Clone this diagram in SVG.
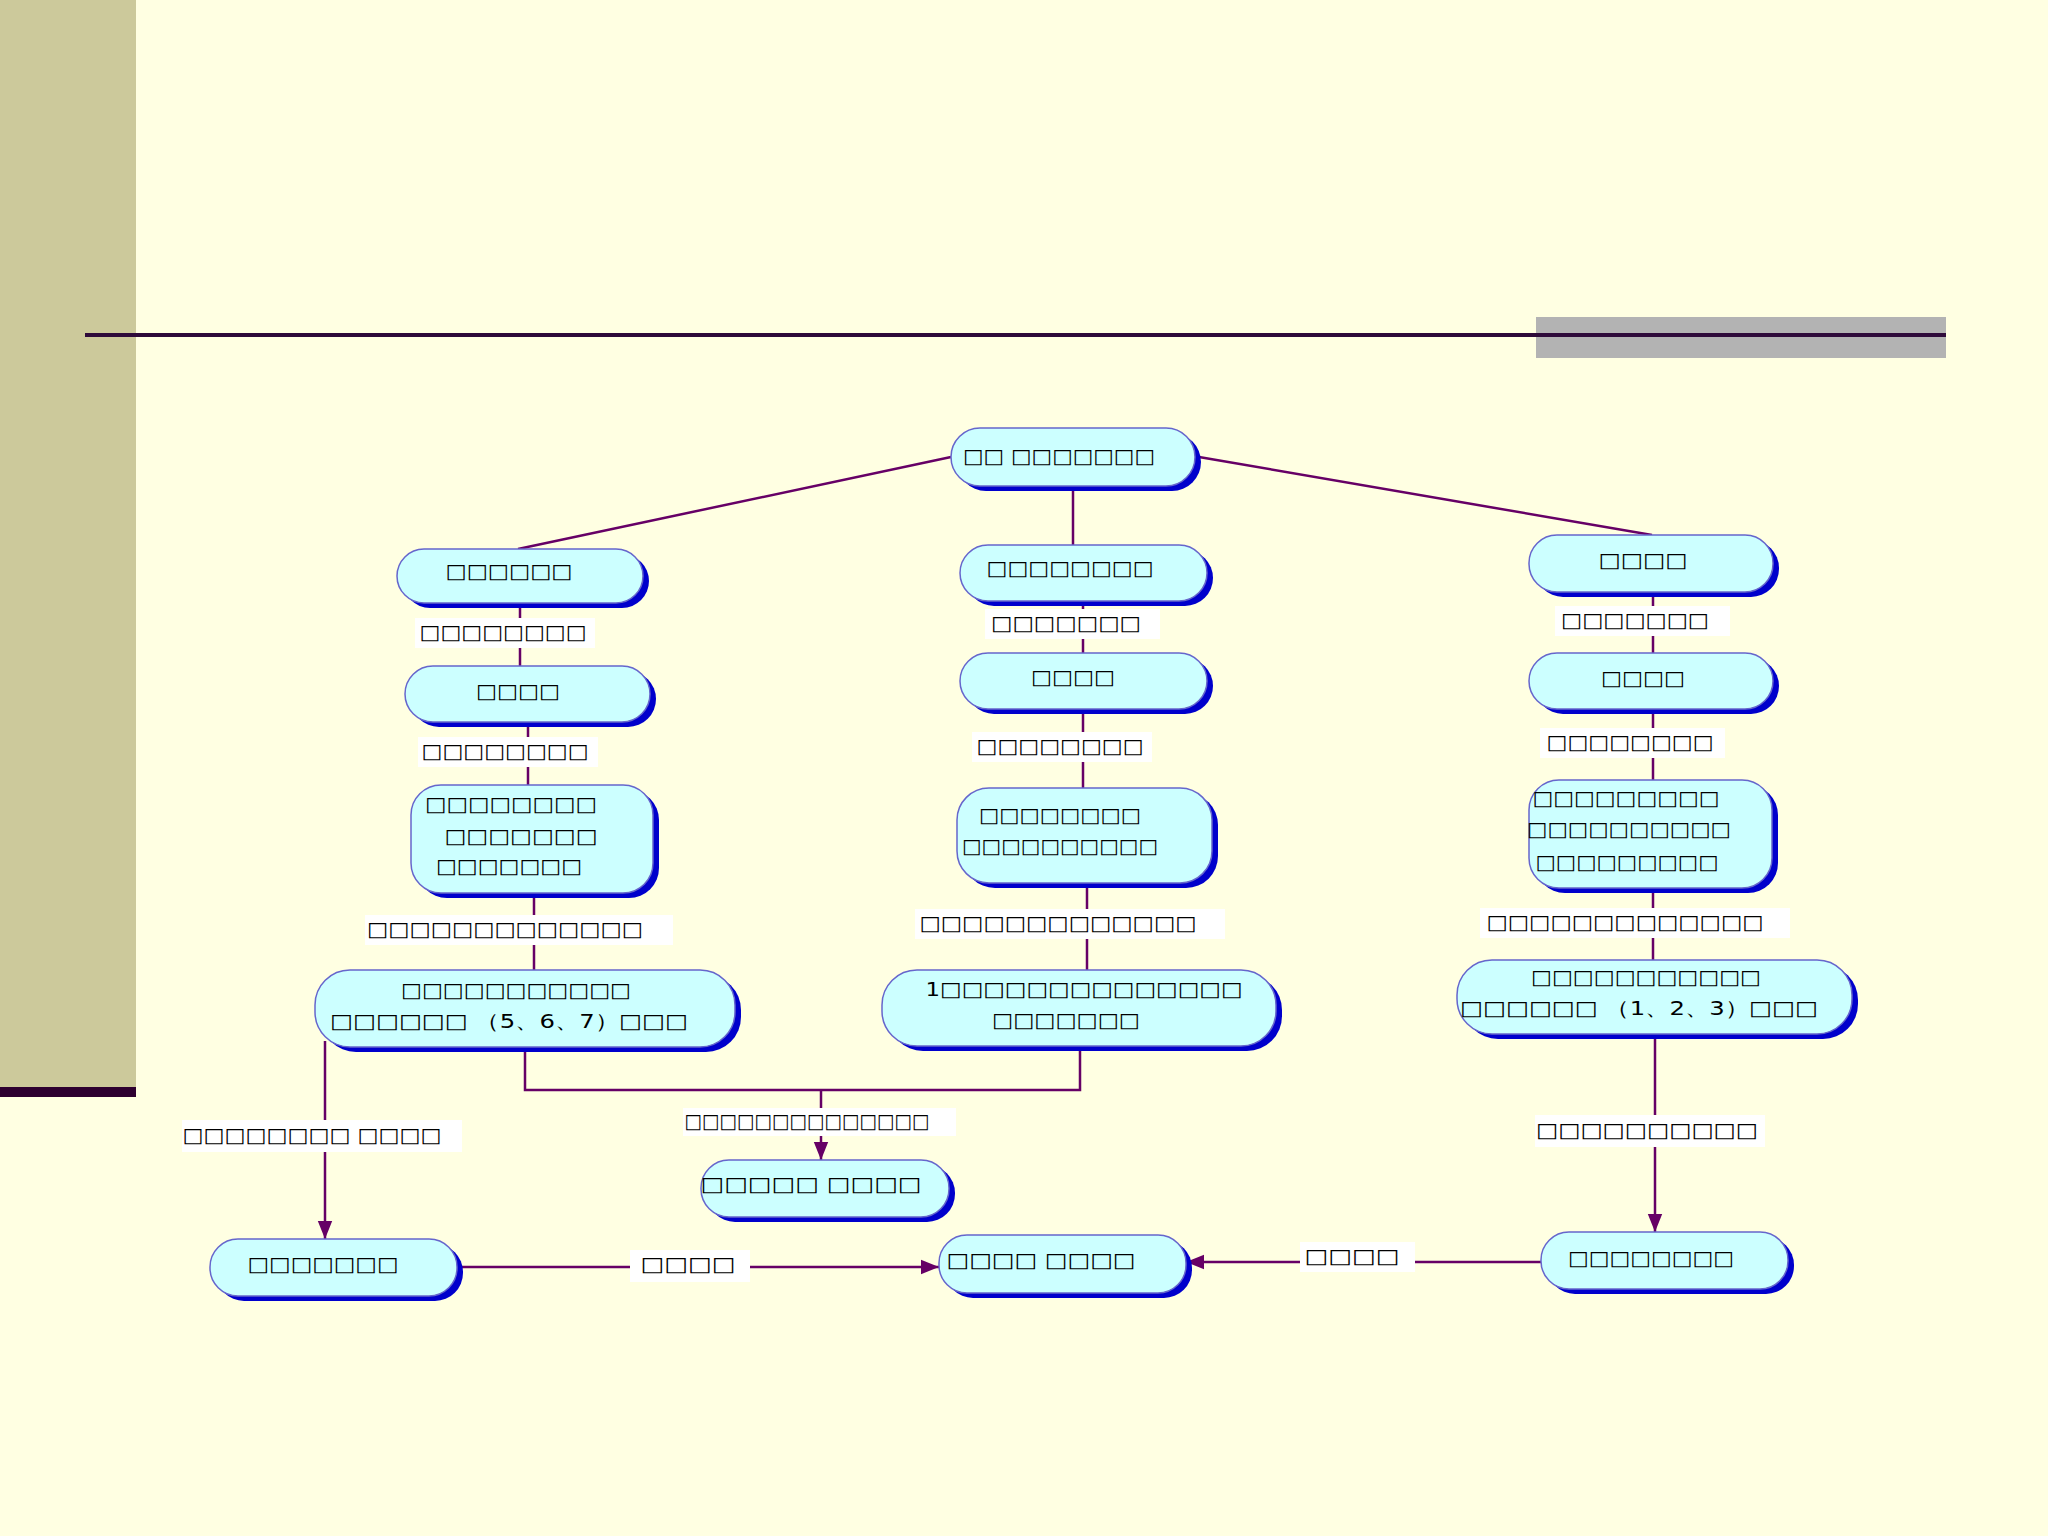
<svg xmlns="http://www.w3.org/2000/svg" width="2048" height="1536" viewBox="0 0 2048 1536">
<defs>
<style>
.n .s{fill:#0000CC}
.n .b{fill:#CCFFFF;stroke:#6666CC;stroke-width:1.5}
text{font-family:"DejaVu Sans",sans-serif;font-size:20px;fill:#000;text-anchor:middle;dominant-baseline:central}
.c line,.c polyline{stroke:#660066;stroke-width:2.5;fill:none}
.lb{fill:#FFFFFF}
</style>
<marker id="a" viewBox="0 0 10 10" refX="10" refY="5" markerWidth="7" markerHeight="7" orient="auto" markerUnits="userSpaceOnUse">
<path d="M0,0L10,5L0,10z" fill="#660066"/>
</marker>
<marker id="ah" viewBox="0 0 10 10" refX="10" refY="5" markerWidth="18" markerHeight="18" orient="auto" markerUnits="userSpaceOnUse">
<path d="M0,1L10,5L0,9z" fill="#660066"/>
</marker>
</defs>
<rect width="2048" height="1536" fill="#FFFFE2"/>
<rect x="0" y="0" width="136" height="1090" fill="#CCC99B"/>
<rect x="0" y="1087" width="136" height="10" fill="#2E0030"/>
<rect x="1536" y="317" width="410" height="41" fill="#B3B3B3"/>
<line x1="85" y1="335" x2="1946" y2="335" stroke="#2E0A3A" stroke-width="4"/>

<g class="c">
<line x1="951" y1="457" x2="518" y2="549"/>
<line x1="1073" y1="486" x2="1073" y2="545"/>
<line x1="1199" y1="457" x2="1652" y2="535"/>
<line x1="520" y1="603" x2="520" y2="666"/>
<line x1="528" y1="722" x2="528" y2="785"/>
<line x1="534" y1="893" x2="534" y2="970"/>
<line x1="1083" y1="601" x2="1083" y2="653"/>
<line x1="1083" y1="709" x2="1083" y2="788"/>
<line x1="1087" y1="883" x2="1087" y2="970"/>
<line x1="1653" y1="592" x2="1653" y2="653"/>
<line x1="1653" y1="709" x2="1653" y2="780"/>
<line x1="1653" y1="888" x2="1653" y2="960"/>
<polyline points="525,1047 525,1090 1080,1090 1080,1046"/>
<line x1="821" y1="1090" x2="821" y2="1160" marker-end="url(#ah)"/>
<line x1="325" y1="1041" x2="325" y2="1239" marker-end="url(#ah)"/>
<line x1="1655" y1="1034" x2="1655" y2="1232" marker-end="url(#ah)"/>
<line x1="457" y1="1267" x2="939" y2="1267" marker-end="url(#ah)"/>
<line x1="1541" y1="1262" x2="1186" y2="1262" marker-end="url(#ah)"/>
</g>

<g id="labels">
<rect class="lb" x="415" y="618" width="180" height="30"/><text x="503" y="632" textLength="167" lengthAdjust="spacingAndGlyphs">□□□□□□□□</text>
<rect class="lb" x="418" y="737" width="180" height="30"/><text x="505" y="751" textLength="167" lengthAdjust="spacingAndGlyphs">□□□□□□□□</text>
<rect class="lb" x="365" y="915" width="308" height="30"/><text x="505" y="929" textLength="276" lengthAdjust="spacingAndGlyphs">□□□□□□□□□□□□□</text>
<rect class="lb" x="985" y="609" width="175" height="30"/><text x="1066" y="623" textLength="150" lengthAdjust="spacingAndGlyphs">□□□□□□□</text>
<rect class="lb" x="972" y="732" width="180" height="30"/><text x="1060" y="746" textLength="167" lengthAdjust="spacingAndGlyphs">□□□□□□□□</text>
<rect class="lb" x="915" y="909" width="310" height="30"/><text x="1058" y="923" textLength="277" lengthAdjust="spacingAndGlyphs">□□□□□□□□□□□□□</text>
<rect class="lb" x="1555" y="606" width="175" height="30"/><text x="1635" y="620" textLength="148" lengthAdjust="spacingAndGlyphs">□□□□□□□</text>
<rect class="lb" x="1540" y="728" width="185" height="30"/><text x="1630" y="742" textLength="167" lengthAdjust="spacingAndGlyphs">□□□□□□□□</text>
<rect class="lb" x="1480" y="908" width="310" height="30"/><text x="1625" y="922" textLength="277" lengthAdjust="spacingAndGlyphs">□□□□□□□□□□□□□</text>
<rect class="lb" x="683" y="1108" width="273" height="28"/><text x="807" y="1121" font-size="16" textLength="245" lengthAdjust="spacingAndGlyphs">□□□□□□□□□□□□□□</text>
<rect class="lb" x="182" y="1120" width="280" height="32"/><text x="312" y="1135" textLength="259" lengthAdjust="spacingAndGlyphs">□□□□□□□□ □□□□</text>
<rect class="lb" x="1535" y="1115" width="230" height="32"/><text x="1647" y="1130" textLength="222" lengthAdjust="spacingAndGlyphs">□□□□□□□□□□</text>
<rect class="lb" x="630" y="1250" width="120" height="32"/><text x="688" y="1264" textLength="95" lengthAdjust="spacingAndGlyphs">□□□□</text>
<rect class="lb" x="1300" y="1242" width="115" height="30"/><text x="1352" y="1256" textLength="95" lengthAdjust="spacingAndGlyphs">□□□□</text>
</g>

<g id="n0" class="n"><rect class="s" x="957" y="433" width="244" height="58" rx="29"/><rect class="b" x="951" y="428" width="244" height="58" rx="29"/><text x="1059" y="456" textLength="192" lengthAdjust="spacingAndGlyphs">□□ □□□□□□□</text></g>
<g id="l1" class="n"><rect class="s" x="403" y="554" width="246" height="54" rx="27"/><rect class="b" x="397" y="549" width="246" height="54" rx="27"/><text x="509" y="571" textLength="127" lengthAdjust="spacingAndGlyphs">□□□□□□</text></g>
<g id="l2" class="n"><rect class="s" x="411" y="671" width="245" height="56" rx="28"/><rect class="b" x="405" y="666" width="245" height="56" rx="28"/><text x="518" y="691" textLength="84" lengthAdjust="spacingAndGlyphs">□□□□</text></g>
<g id="l3" class="n"><rect class="s" x="417" y="790" width="242" height="108" rx="30"/><rect class="b" x="411" y="785" width="242" height="108" rx="30"/><text x="511" y="804" textLength="172" lengthAdjust="spacingAndGlyphs">□□□□□□□□</text><text x="521" y="836" textLength="153" lengthAdjust="spacingAndGlyphs">□□□□□□□</text><text x="509" y="866" textLength="146" lengthAdjust="spacingAndGlyphs">□□□□□□□</text></g>
<g id="l4" class="n"><rect class="s" x="321" y="975" width="420" height="77" rx="35"/><rect class="b" x="315" y="970" width="420" height="77" rx="35"/><text x="516" y="990" textLength="230" lengthAdjust="spacingAndGlyphs">□□□□□□□□□□□</text><text x="509" y="1021" textLength="358" lengthAdjust="spacingAndGlyphs">□□□□□□ （5、6、7）□□□</text></g>
<g id="m1" class="n"><rect class="s" x="966" y="550" width="247" height="56" rx="28"/><rect class="b" x="960" y="545" width="247" height="56" rx="28"/><text x="1070" y="568" textLength="167" lengthAdjust="spacingAndGlyphs">□□□□□□□□</text></g>
<g id="m2" class="n"><rect class="s" x="966" y="658" width="247" height="56" rx="28"/><rect class="b" x="960" y="653" width="247" height="56" rx="28"/><text x="1073" y="677" textLength="84" lengthAdjust="spacingAndGlyphs">□□□□</text></g>
<g id="m3" class="n"><rect class="s" x="963" y="793" width="255" height="95" rx="32"/><rect class="b" x="957" y="788" width="255" height="95" rx="32"/><text x="1060" y="815" textLength="162" lengthAdjust="spacingAndGlyphs">□□□□□□□□</text><text x="1060" y="846" textLength="196" lengthAdjust="spacingAndGlyphs">□□□□□□□□□□</text></g>
<g id="m4" class="n"><rect class="s" x="888" y="975" width="394" height="76" rx="35"/><rect class="b" x="882" y="970" width="394" height="76" rx="35"/><text x="1084" y="989" textLength="317" lengthAdjust="spacingAndGlyphs">1□□□□□□□□□□□□□□</text><text x="1066" y="1020" textLength="148" lengthAdjust="spacingAndGlyphs">□□□□□□□</text></g>
<g id="r1" class="n"><rect class="s" x="1535" y="540" width="244" height="57" rx="28"/><rect class="b" x="1529" y="535" width="244" height="57" rx="28"/><text x="1643" y="560" textLength="89" lengthAdjust="spacingAndGlyphs">□□□□</text></g>
<g id="r2" class="n"><rect class="s" x="1535" y="658" width="244" height="56" rx="28"/><rect class="b" x="1529" y="653" width="244" height="56" rx="28"/><text x="1643" y="678" textLength="84" lengthAdjust="spacingAndGlyphs">□□□□</text></g>
<g id="r3" class="n"><rect class="s" x="1535" y="785" width="243" height="108" rx="30"/><rect class="b" x="1529" y="780" width="243" height="108" rx="30"/><text x="1626" y="798" textLength="187" lengthAdjust="spacingAndGlyphs">□□□□□□□□□</text><text x="1629" y="829" textLength="204" lengthAdjust="spacingAndGlyphs">□□□□□□□□□□</text><text x="1627" y="862" textLength="183" lengthAdjust="spacingAndGlyphs">□□□□□□□□□</text></g>
<g id="r4" class="n"><rect class="s" x="1463" y="965" width="395" height="74" rx="35"/><rect class="b" x="1457" y="960" width="395" height="74" rx="35"/><text x="1646" y="977" textLength="230" lengthAdjust="spacingAndGlyphs">□□□□□□□□□□□</text><text x="1639" y="1008" textLength="358" lengthAdjust="spacingAndGlyphs">□□□□□□ （1、2、3）□□□</text></g>
<g id="b1" class="n"><rect class="s" x="707" y="1165" width="248" height="57" rx="28"/><rect class="b" x="701" y="1160" width="248" height="57" rx="28"/><text x="811" y="1184" textLength="221" lengthAdjust="spacingAndGlyphs">□□□□□ □□□□</text></g>
<g id="b2" class="n"><rect class="s" x="216" y="1244" width="247" height="57" rx="28"/><rect class="b" x="210" y="1239" width="247" height="57" rx="28"/><text x="323" y="1264" textLength="151" lengthAdjust="spacingAndGlyphs">□□□□□□□</text></g>
<g id="b3" class="n"><rect class="s" x="945" y="1240" width="247" height="58" rx="28"/><rect class="b" x="939" y="1235" width="247" height="58" rx="28"/><text x="1041" y="1260" textLength="189" lengthAdjust="spacingAndGlyphs">□□□□ □□□□</text></g>
<g id="b4" class="n"><rect class="s" x="1547" y="1237" width="247" height="57" rx="28"/><rect class="b" x="1541" y="1232" width="247" height="57" rx="28"/><text x="1651" y="1258" textLength="166" lengthAdjust="spacingAndGlyphs">□□□□□□□□</text></g>
</svg>
